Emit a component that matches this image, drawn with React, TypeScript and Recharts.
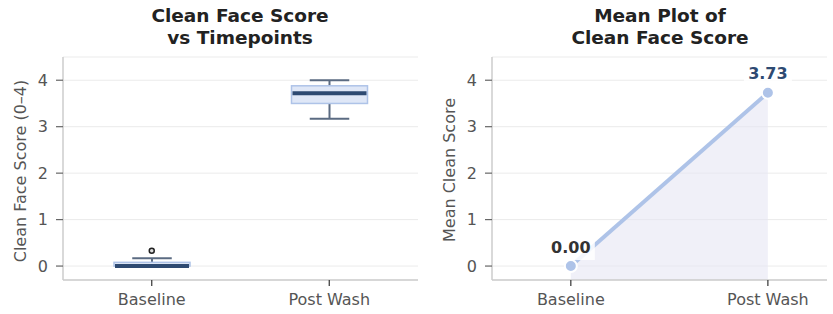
import {
  ComposedChart,
  Bar,
  Line,
  Area,
  XAxis,
  YAxis,
  CartesianGrid,
  LabelList,
} from "recharts";

// categories
const timepoints = ["Baseline", "Post Wash"];

// box plot summary per timepoint
const boxMin = [0, 3.17];
const boxQ1 = [0, 3.5];
const boxMedian = [0, 3.72];
const boxQ3 = [0.08, 3.88];
const boxMax = [0.17, 4.0];
const outliers: (number | null)[] = [0.33, null];

// mean per timepoint
const means = [0.0, 3.73];

const yTicks = [0, 1, 2, 3, 4];

const FONT = "DejaVu Sans, sans-serif";
const NAVY = "#2e4a72";
const LIGHT_BLUE = "#aec3e8";

const boxData = timepoints.map((name, i) => ({
  name,
  min: boxMin[i],
  q1: boxQ1[i],
  median: boxMedian[i],
  q3: boxQ3[i],
  max: boxMax[i],
  range: [boxMin[i], boxMax[i]],
  outlier: outliers[i],
}));

const meanData = timepoints.map((name, i) => ({ idx: i, name, mean: means[i] }));

function BoxShape(props: any) {
  const { x, y, width, height, payload } = props;
  const top = Math.min(y, y + height);
  const bottom = Math.max(y, y + height);
  const k = (bottom - top) / (payload.max - payload.min);
  const py = (v: number) => bottom - (v - payload.min) * k;
  const cx = x + width / 2;
  const cap = width * 0.26;
  const whisker = { stroke: "#5b6b82", strokeWidth: 2 };
  return (
    <g>
      <line x1={cx} x2={cx} y1={py(payload.min)} y2={py(payload.q1)} {...whisker} />
      <line x1={cx} x2={cx} y1={py(payload.q3)} y2={py(payload.max)} {...whisker} />
      <line x1={cx - cap} x2={cx + cap} y1={py(payload.min)} y2={py(payload.min)} {...whisker} />
      <line x1={cx - cap} x2={cx + cap} y1={py(payload.max)} y2={py(payload.max)} {...whisker} />
      <rect
        x={x}
        y={py(payload.q3)}
        width={width}
        height={Math.max(py(payload.q1) - py(payload.q3), 0.5)}
        fill="#dfe7f7"
        stroke={LIGHT_BLUE}
        strokeWidth={1.5}
      />
      <line
        x1={x + 1}
        x2={x + width - 1}
        y1={py(payload.median)}
        y2={py(payload.median)}
        stroke={NAVY}
        strokeWidth={4}
      />
    </g>
  );
}

function MeanLabel(props: any) {
  const { x, y, index, value } = props;
  const first = index === 0;
  const cy = y - 19;
  return (
    <g>
      <rect x={x - 24} y={cy - 11} width={48} height={24} fill="#ffffff" fillOpacity={0.85} />
      <text
        x={x}
        y={cy}
        textAnchor="middle"
        dominantBaseline="central"
        fontFamily={FONT}
        fontWeight="bold"
        fontSize={16}
        fill={first ? "#333333" : NAVY}
      >
        {Number(value).toFixed(2)}
      </text>
    </g>
  );
}

const titleStyle: React.CSSProperties = {
  position: "absolute",
  top: 5,
  transform: "translateX(-50%)",
  textAlign: "center",
  fontFamily: FONT,
  fontWeight: "bold",
  fontSize: 18.5,
  lineHeight: "22px",
  color: "#222",
  whiteSpace: "nowrap",
};

const yLabelStyle: React.CSSProperties = {
  position: "absolute",
  transform: "translate(-50%, -50%) rotate(-90deg)",
  fontFamily: FONT,
  fontSize: 16,
  color: "#555",
  whiteSpace: "nowrap",
};

const tick = { fontSize: 16, fill: "#555", fontFamily: FONT };

export default function App() {
  return (
    <div
      style={{
        position: "absolute",
        left: 0,
        top: 0,
        width: 833,
        height: 314,
        background: "#fff",
        fontFamily: FONT,
      }}
    >
      <div style={{ ...titleStyle, left: 240 }}>
        Clean Face Score
        <br />
        vs Timepoints
      </div>
      <div style={{ ...titleStyle, left: 660 }}>
        Mean Plot of
        <br />
        Clean Face Score
      </div>
      <div style={{ ...yLabelStyle, left: 20, top: 171 }}>Clean Face Score (0–4)</div>
      <div style={{ ...yLabelStyle, left: 449, top: 170 }}>Mean Clean Score</div>

      <div style={{ position: "absolute", left: 0, top: 0 }}>
        <ComposedChart
          width={420}
          height={314}
          data={boxData}
          margin={{ top: 57, right: 2, bottom: 4, left: 0 }}
        >
          <CartesianGrid vertical={false} stroke="#ebebeb" strokeWidth={1} />
          <XAxis
            dataKey="name"
            height={30}
            axisLine={{ stroke: "#cccccc", strokeWidth: 1.5 }}
            tickLine={{ stroke: "#333333", strokeWidth: 1.2 }}
            tickSize={6}
            tickMargin={8}
            tick={tick}
          />
          <YAxis
            width={63}
            domain={[-0.3, 4.5]}
            ticks={yTicks}
            allowDataOverflow
            axisLine={{ stroke: "#cccccc", strokeWidth: 1.5 }}
            tickLine={{ stroke: "#666666", strokeWidth: 1.2 }}
            tickSize={7}
            tickMargin={8}
            tick={tick}
          />
          <Bar
            dataKey={(d: any) => d.range}
            barSize={76}
            shape={<BoxShape />}
            isAnimationActive={false}
          />
          <Line
            dataKey="outlier"
            stroke="none"
            dot={{ r: 2.5, fill: "#dddddd", stroke: "#222222", strokeWidth: 1.5 }}
            activeDot={false}
            isAnimationActive={false}
          />
        </ComposedChart>
      </div>

      <div style={{ position: "absolute", left: 420, top: 0 }}>
        <ComposedChart
          width={413}
          height={314}
          data={meanData}
          margin={{ top: 57, right: 6, bottom: 4, left: 0 }}
        >
          <CartesianGrid vertical={false} stroke="#ebebeb" strokeWidth={1} />
          <XAxis
            dataKey="idx"
            type="number"
            height={30}
            domain={[-0.4, 1.3]}
            ticks={[0, 1]}
            tickFormatter={(v: number) => timepoints[v] ?? ""}
            allowDataOverflow
            axisLine={{ stroke: "#cccccc", strokeWidth: 1.5 }}
            tickLine={{ stroke: "#333333", strokeWidth: 1.2 }}
            tickSize={6}
            tickMargin={8}
            tick={tick}
          />
          <YAxis
            width={72}
            domain={[-0.3, 4.5]}
            ticks={yTicks}
            allowDataOverflow
            axisLine={{ stroke: "#cccccc", strokeWidth: 1.5 }}
            tickLine={{ stroke: "#666666", strokeWidth: 1.2 }}
            tickSize={7}
            tickMargin={8}
            tick={tick}
          />
          <Area
            dataKey="mean"
            type="linear"
            baseValue={-0.3}
            fill="#e6e6f3"
            fillOpacity={0.6}
            stroke="none"
            isAnimationActive={false}
          />
          <Line
            dataKey="mean"
            type="linear"
            stroke={LIGHT_BLUE}
            strokeWidth={4}
            dot={{ r: 6, fill: LIGHT_BLUE, stroke: "#ffffff", strokeWidth: 2 }}
            activeDot={false}
            isAnimationActive={false}
          >
            <LabelList dataKey="mean" content={<MeanLabel />} />
          </Line>
        </ComposedChart>
      </div>
    </div>
  );
}
